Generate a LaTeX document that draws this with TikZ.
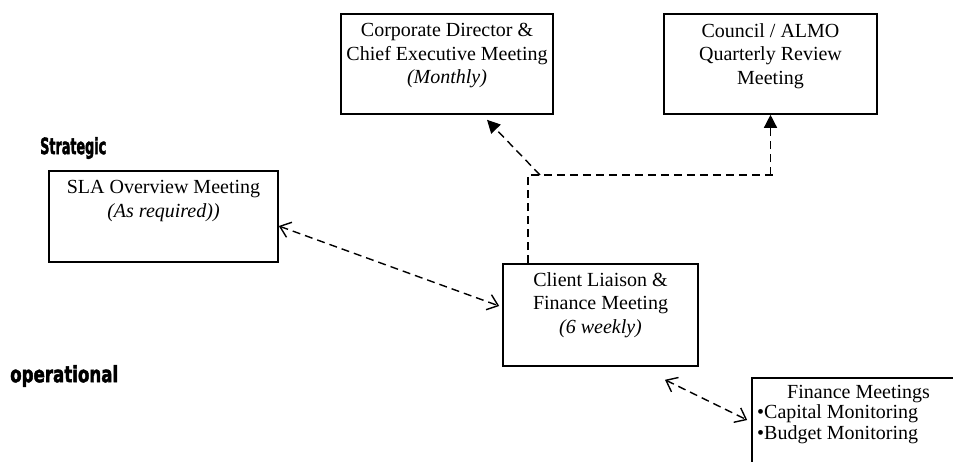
\documentclass[tikz,border=0pt]{standalone}
\usepackage{fontspec}
\setmainfont{Liberation Serif}
\newfontfamily\heavyfont{DejaVu Sans Bold}[FakeBold=2.5]
\usetikzlibrary{arrows.meta}
\begin{document}
\begin{tikzpicture}[x=1pt,y=-1pt,
  box/.style={draw, line width=1.6pt, rectangle, inner sep=0pt},
  txt/.style={anchor=north, align=center, inner sep=0pt, font=\fontsize{20}{23.5}\selectfont},
  fintxt/.style={anchor=north west, align=left, inner sep=0pt, font=\fontsize{20}{20.5}\selectfont},
  lvl/.style={anchor=west, inner sep=0pt, font=\heavyfont\fontsize{19}{20}\selectfont},
  conn/.style={line width=1.4pt, dash pattern=on 8pt off 5pt},
  openarr/.style={{Straight Barb[length=10pt,width=16pt,line width=1.4pt]}-{Straight Barb[length=10pt,width=16pt,line width=1.4pt]}},
  solidarr/.style={-{Triangle[length=13pt,width=13pt]}}
]
\useasboundingbox (0,0) rectangle (953,461);

% level labels
\node[lvl] (strat) at (40,148) {\resizebox{66pt}{17pt}{Strategic}};
\node[lvl] (oper) at (10,376) {\resizebox{108pt}{17pt}{operational}};

% boxes
\node[box, minimum width=212pt, minimum height=100pt] (corp) at (447,64) {};
\node[box, minimum width=213pt, minimum height=100pt] (council) at (770.5,64) {};
\node[box, minimum width=229pt, minimum height=91pt] (sla) at (163.5,216.5) {};
\node[box, minimum width=195pt, minimum height=102pt] (client) at (600.5,315) {};
\node[box, minimum width=223pt, minimum height=102pt] (fin) at (863.5,429) {};

% texts
\node[txt] (corpt) at ([yshift=-10pt]corp.north) {Corporate Director \&\\Chief Executive Meeting\\\textit{(Monthly)}};
\node[txt] (councilt) at ([yshift=-10pt]council.north) {Council / ALMO\\Quarterly Review\\Meeting};
\node[txt] (slat) at ([yshift=-10pt]sla.north) {SLA Overview Meeting\\\textit{(As required))}};
\node[txt] (clientt) at ([yshift=-9pt]client.north) {Client Liaison \&\\Finance Meeting\\\textit{(6 weekly)}};
\node[fintxt] (fint) at (757,385) {\hspace*{30pt}Finance Meetings\\•Capital Monitoring\\•Budget Monitoring};

% junction coordinates
\coordinate (jn) at (528,175);
\coordinate (jend) at (776,175);
\coordinate (jd) at (540,175);

% connectors
\draw[conn, openarr] ([yshift=-9.5pt]sla.east) -- ([xshift=-3pt,yshift=9pt]client.west);
\draw[conn] (client.north -| jn) -- (jn) -- (jend);
\draw[conn, solidarr] (council.south |- jn) -- (council.south);
\draw[conn, solidarr] (jd) -- ([xshift=40pt,yshift=-5pt]corp.south);
\draw[conn, openarr] ([xshift=64.5pt,yshift=-13pt]client.south) -- ([xshift=-4pt,yshift=9pt]fin.west);
\end{tikzpicture}
\end{document}
